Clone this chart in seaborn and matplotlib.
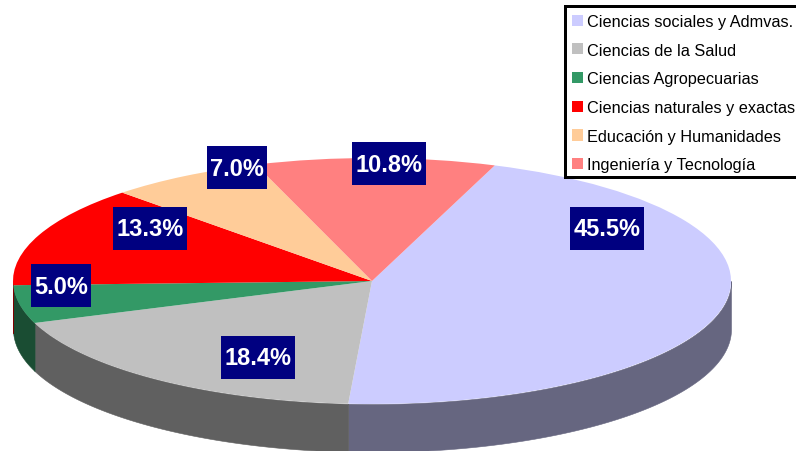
import numpy as np
import matplotlib
matplotlib.use("Agg")
import matplotlib.pyplot as plt
from matplotlib.patches import Rectangle
import seaborn as sns

categories = ["Ciencias sociales y Admvas.", "Ciencias de la Salud", "Ciencias Agropecuarias",
              "Ciencias naturales y exactas", "Educación y Humanidades", "Ingeniería y Tecnología"]
shares = [45.5, 18.4, 5.0, 13.3, 7.0, 10.8]
top_colors = ["#CCCCFF", "#C0C0C0", "#339966", "#FF0000", "#FFCC99", "#FF8080"]
side_colors = ["#666680", "#606060", "#1A4D33", "#800000", "#806650", "#804040"]

W, H = 796, 452
CX, CY, RX, RY, DEPTH = 372, 282, 359, 123, 48
START = 70

sns.set_theme(style="white")
plt.rcParams["font.family"] = ["Liberation Sans", "DejaVu Sans"]

fig = plt.figure(figsize=(W / 100, H / 100), dpi=100)
ax = fig.add_axes([0, 0, 1, 1])

wedges, _ = ax.pie(shares, colors=top_colors, startangle=START, counterclock=False,
                   radius=1, wedgeprops={"linewidth": 0, "zorder": 3})
ax.set_aspect("auto")
ax.set_xlim(-CX / RX, (W - CX) / RX)
ax.set_ylim((CY - H) / RY, CY / RY)
ax.axis("off")

# Rim of the disc, seen only on the lower half of the ellipse
depth = DEPTH / RY
edges = START - np.concatenate([[0], np.cumsum(shares)]) * 3.6
for a0, a1, col in zip(edges[:-1], edges[1:], side_colors):
    t0 = min(a0, 0)
    t1 = max(a1, -180)
    if t0 <= t1:
        continue
    t = np.radians(np.linspace(t1, t0, 120))
    ax.fill_between(np.cos(t), np.sin(t), np.sin(t) - depth, color=col, lw=0.4, zorder=2)


def px(x, y):
    return (x - CX) / RX, (CY - y) / RY


# Percent labels: pixel centre of each navy box and its width
label_pos = [(607, 229, 74), (258, 358, 74), (61, 286.5, 60),
             (150, 229.5, 74), (237, 168.5, 60), (389, 164.5, 74)]
for v, (x, y, w) in zip(shares, label_pos):
    x0, y0 = px(x - w / 2, y + 21.5)
    x1, y1 = px(x + w / 2, y - 21.5)
    ax.add_patch(Rectangle((x0, y0), x1 - x0, y1 - y0, fc="#000080", ec="none", zorder=5))
    tx, ty = px(x, y + 0.5)
    ax.text(tx, ty, f"{v:.1f}%", color="white", fontsize=17, fontweight="bold",
            ha="center", va="center", zorder=6)

# Legend frame, running off the right edge of the figure
fig.add_artist(Rectangle((564.5 / W, 1 - 177.5 / H), 260 / W, 171 / H,
                         transform=fig.transFigure, fc="white", ec="black",
                         lw=2.16, zorder=5))
leg = fig.legend(wedges, categories, loc="upper left",
                 bbox_to_anchor=(565 / W, 1 - 8 / H), bbox_transform=fig.transFigure,
                 fontsize=11.7, frameon=False, borderaxespad=0,
                 handlelength=0.68, handleheight=0.68, handletextpad=0.28,
                 labelspacing=0.845, borderpad=0.42, labelcolor="black")
leg.set_zorder(10)

fig.savefig("out.png", dpi=100, facecolor="white")
